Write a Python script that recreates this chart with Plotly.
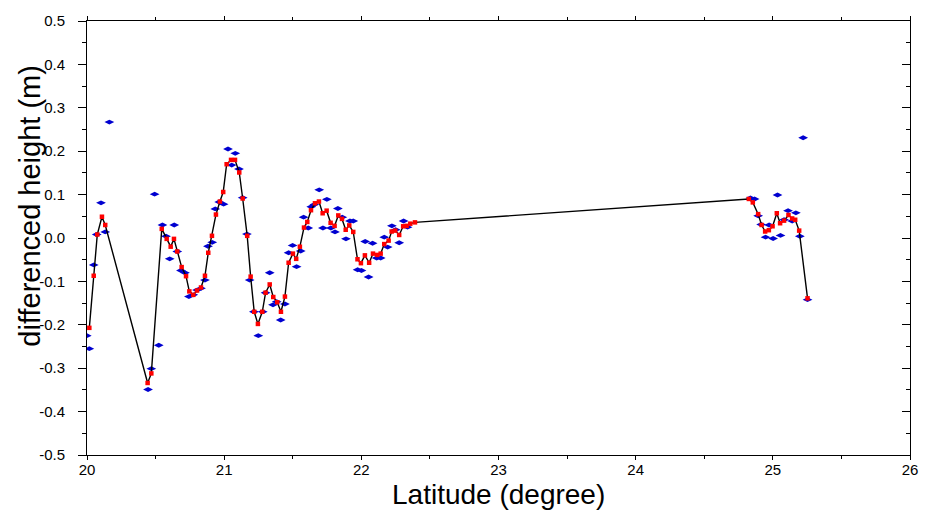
import plotly.graph_objects as go

# Raw differenced heights (blue) along the track
raw_lat = [19.998, 20.017, 20.049, 20.071, 20.102, 20.133, 20.163,
           20.445, 20.469, 20.493, 20.523, 20.550, 20.576, 20.603, 20.636,
           20.658, 20.685, 20.714, 20.743, 20.775, 20.802, 20.831, 20.860,
           20.882, 20.913, 20.935, 20.964, 20.996, 21.028, 21.055, 21.081,
           21.108, 21.135, 21.166, 21.186, 21.217, 21.249, 21.281, 21.302,
           21.332, 21.356, 21.383, 21.412, 21.443, 21.470, 21.499, 21.528,
           21.558, 21.579, 21.613, 21.635, 21.657, 21.693, 21.720, 21.749,
           21.778, 21.808, 21.829, 21.861, 21.888, 21.917, 21.941, 21.973,
           22.001, 22.028, 22.053, 22.082, 22.112, 22.141, 22.167, 22.192,
           22.223, 22.250, 22.276, 22.308, 22.337,
           24.837, 24.867, 24.893, 24.915, 24.947, 24.973, 25.002, 25.034,
           25.056, 25.082, 25.111, 25.141, 25.168, 25.197, 25.221, 25.253]
raw_h = [-0.225, -0.255, -0.062, 0.008, 0.081, 0.014, 0.267,
         -0.349, -0.301, 0.101, -0.247, 0.030, 0.004, -0.048, 0.030,
         -0.031, -0.075, -0.080, -0.135, -0.131, -0.120, -0.116, -0.097,
         -0.019, -0.010, 0.067, 0.083, 0.078, 0.205, 0.168, 0.195,
         0.159, 0.093, 0.009, -0.097, -0.170, -0.225, -0.170, -0.126,
         -0.080, -0.154, -0.147, -0.189, -0.152, -0.034, -0.017, -0.066,
         -0.030, 0.048, 0.023, 0.072, 0.077, 0.111, 0.023, 0.089,
         0.023, 0.014, 0.068, 0.048, -0.002, 0.039, 0.039, -0.073,
         -0.075, -0.008, -0.090, -0.012, -0.046, -0.046, 0.002, -0.021,
         0.028, 0.019, -0.011, 0.039, 0.025,
         0.092, 0.090, 0.051, 0.031, 0.002, 0.030, -0.001, 0.099,
         0.006, 0.042, 0.063, 0.039, 0.058, 0.004, 0.231, -0.142]

# Filtered profile (red points joined by the black line)
fit_lat = [20.017, 20.049, 20.075, 20.109, 20.133,
           20.442, 20.469, 20.545, 20.581, 20.610, 20.634, 20.658, 20.690,
           20.722, 20.746, 20.775, 20.802, 20.831, 20.860, 20.884, 20.911,
           20.940, 20.969, 20.993, 21.018, 21.050, 21.079, 21.110, 21.135,
           21.168, 21.193, 21.219, 21.246, 21.278, 21.302, 21.332, 21.358,
           21.387, 21.414, 21.443, 21.470, 21.501, 21.525, 21.552, 21.582,
           21.606, 21.633, 21.662, 21.691, 21.718, 21.747, 21.776, 21.805,
           21.832, 21.859, 21.886, 21.912, 21.941, 21.972, 21.997, 22.026,
           22.057, 22.085, 22.116, 22.141, 22.167, 22.199, 22.221, 22.247,
           22.276, 22.305, 22.330, 22.357, 22.391,
           24.825, 24.854, 24.893, 24.918, 24.944, 24.971, 24.998, 25.029,
           25.053, 25.082, 25.114, 25.141, 25.163, 25.192, 25.253]
fit_h = [-0.207, -0.087, 0.008, 0.049, 0.030,
         -0.334, -0.312, 0.021, -0.002, -0.020, -0.002, -0.031, -0.067,
         -0.088, -0.123, -0.131, -0.121, -0.114, -0.087, -0.034, 0.005,
         0.054, 0.084, 0.106, 0.170, 0.180, 0.180, 0.151, 0.091,
         0.005, -0.089, -0.170, -0.198, -0.170, -0.126, -0.107, -0.136,
         -0.148, -0.170, -0.135, -0.057, -0.036, -0.048, -0.020, 0.024,
         0.037, 0.064, 0.080, 0.084, 0.057, 0.063, 0.035, 0.028,
         0.052, 0.044, 0.019, 0.029, 0.014, -0.049, -0.058, -0.040,
         -0.057, -0.036, -0.039, -0.036, -0.014, -0.006, 0.015, 0.017,
         0.007, 0.027, 0.028, 0.033, 0.036,
         0.090, 0.082, 0.055, 0.030, 0.015, 0.018, 0.027, 0.057,
         0.034, 0.040, 0.053, 0.045, 0.042, 0.017, -0.139]

x_ticks = [20, 21, 22, 23, 24, 25, 26]
y_ticks = [-0.5, -0.4, -0.3, -0.2, -0.1, 0.0, 0.1, 0.2, 0.3, 0.4, 0.5]
y_ticktext = ["-0.5", "-0.4", "-0.3", "-0.2", "-0.1", "0.0",
              "0.1", "0.2", "0.3", "0.4", "0.5"]

x_title = "Latitude (degree)"
y_title = "differenced height (m)"

x_range = [20, 26]
y_range = [-0.5, 0.5]

font_family = "Liberation Sans, Arial, sans-serif"

fig = go.Figure()
fig.add_trace(go.Scatter(
    x=raw_lat, y=raw_h, mode="markers",
    marker=dict(symbol="diamond-wide", size=7, color="#0000d0",
                line=dict(width=0)),
    showlegend=False))
fig.add_trace(go.Scatter(
    x=fit_lat, y=fit_h, mode="lines",
    line=dict(color="black", width=1.4),
    showlegend=False))
fig.add_trace(go.Scatter(
    x=fit_lat, y=fit_h, mode="markers",
    marker=dict(symbol="square", size=4.5, color="#ff0000",
                line=dict(width=0)),
    showlegend=False))
# empty traces so the top and right frame axes are drawn
fig.add_trace(go.Scatter(x=[], y=[], xaxis="x2", yaxis="y", showlegend=False))
fig.add_trace(go.Scatter(x=[], y=[], xaxis="x", yaxis="y2", showlegend=False))

axis_common = dict(showgrid=False, zeroline=False, showline=True,
                   linecolor="black", linewidth=1, tickcolor="black",
                   tickwidth=1)

fig.update_layout(
    width=931, height=512,
    margin=dict(l=87, r=21, t=15, b=57),
    paper_bgcolor="white", plot_bgcolor="white",
    font=dict(family=font_family, color="black"),
    xaxis=dict(range=x_range, tickvals=x_ticks, ticks="outside", ticklen=4,
               tickfont=dict(size=15), ticklabelstandoff=-3,
               minor=dict(dtick=0.5, ticks="outside", ticklen=3,
                          tickcolor="black"),
               **axis_common),
    yaxis=dict(range=y_range, tickvals=y_ticks, ticktext=y_ticktext,
               ticks="outside", ticklen=8, tickfont=dict(size=15),
               ticklabelstandoff=10,
               minor=dict(dtick=0.05, ticks="outside", ticklen=4,
                          tickcolor="black"),
               **axis_common),
    xaxis2=dict(range=x_range, overlaying="x", side="top",
                tickvals=x_ticks, ticks="outside", ticklen=4,
                showticklabels=False,
                minor=dict(dtick=0.5, ticks="outside", ticklen=3,
                           tickcolor="black"),
                **axis_common),
    yaxis2=dict(range=y_range, overlaying="y", side="right",
                tickvals=y_ticks, ticks="inside", ticklen=8,
                showticklabels=False,
                minor=dict(dtick=0.05, ticks="inside", ticklen=4,
                           tickcolor="black"),
                **axis_common),
    annotations=[
        dict(text=x_title, xref="paper", yref="paper", x=0.5, y=-0.09,
             xanchor="center", yanchor="middle", showarrow=False,
             font=dict(size=28)),
        dict(text=y_title, xref="paper", yref="paper", x=-0.069, y=0.575,
             xanchor="center", yanchor="middle", textangle=-90,
             showarrow=False, font=dict(size=29)),
    ],
)

fig.write_html("out.html")
